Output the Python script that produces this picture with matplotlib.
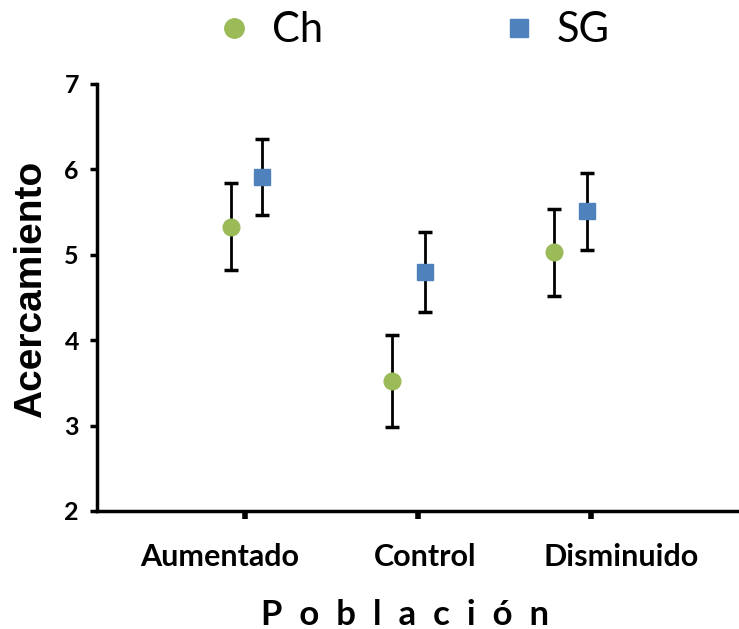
import matplotlib
matplotlib.use('Agg')
import matplotlib.pyplot as plt
from matplotlib.lines import Line2D

# Datos
categorias = ['Aumentado', 'Control', 'Disminuido']
ch_media = [5.33, 3.52, 5.03]
ch_error = [0.51, 0.54, 0.51]
sg_media = [5.91, 4.80, 5.51]
sg_error = [0.45, 0.47, 0.45]

# posiciones en el eje x (los puntos y las etiquetas no quedan centrados en las marcas)
ch_x = [0.92, 1.85, 2.79]
sg_x = [1.10, 2.04, 2.98]
etiqueta_x = [0.855, 2.04, 3.18]

verde = '#9BBB59'
azul = '#4F81BD'

fig = plt.figure(figsize=(7.39, 6.29), dpi=100)
ax = fig.add_axes([0.1313, 0.1876, 0.8687, 0.6789])

ax.errorbar(ch_x, ch_media, yerr=ch_error, fmt='o', color=verde, markersize=12,
            ecolor='black', elinewidth=2, capsize=5, capthick=2.5, zorder=3)
ax.errorbar(sg_x, sg_media, yerr=sg_error, fmt='s', color=azul, markersize=11.5,
            ecolor='black', elinewidth=2, capsize=5, capthick=2.5, zorder=3)

ax.set_xlim(0.142, 3.86)
ax.set_ylim(2, 7)
ax.set_xticks([1, 2, 3])
ax.set_xticklabels([])
ax.set_xticks(etiqueta_x, categorias, minor=True)
for t in ax.get_xticklabels(minor=True):
    t.set_fontfamily('Lato')
    t.set_fontweight('bold')
    t.set_fontsize(22)
ax.set_yticks([2, 3, 4, 5, 6, 7])
ax.set_yticklabels(['2', '3', '4', '5', '6', '7'], fontfamily='Lato', fontweight='bold', fontsize=18)

ax.spines['top'].set_visible(False)
ax.spines['right'].set_visible(False)
ax.spines['left'].set_linewidth(2.5)
ax.spines['bottom'].set_linewidth(2.5)
ax.spines['bottom'].set_clip_on(False)
ax.tick_params(axis='x', which='major', direction='out', length=6, width=4)
ax.tick_params(axis='x', which='minor', length=0, pad=23)
ax.tick_params(axis='y', direction='out', length=5, width=2.5, pad=8)

ax.set_ylabel('Acercamiento', fontfamily='Liberation Sans', fontweight='bold', fontsize=28)
ax.yaxis.set_label_coords(-0.075, 0.52)
ax.set_xlabel('P  o  b  l  a  c  i  ó  n', fontfamily='Lato', fontweight='bold', fontsize=25)
ax.xaxis.set_label_coords(0.48, -0.205)

handles = [Line2D([], [], marker='o', color=verde, linestyle='none', markersize=14),
           Line2D([], [], marker='s', color=azul, linestyle='none', markersize=13)]
fig.legend(handles, ['Ch', 'SG'], loc='center', bbox_to_anchor=(0.554, 0.952), ncol=2,
           frameon=False, prop={'family': 'Lato', 'size': 30}, columnspacing=4.1,
           handletextpad=0.3, handlelength=1.2)

fig.savefig('out.png', dpi=100)
